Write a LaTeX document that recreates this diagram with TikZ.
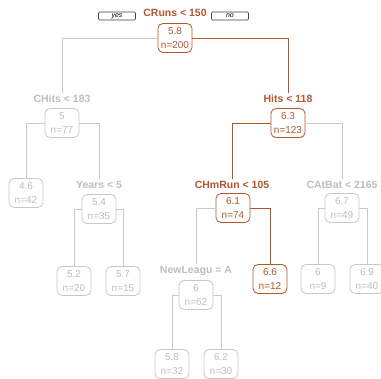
\documentclass[tikz,border=0pt]{standalone}
\usepackage{fontspec}
\setmainfont{Liberation Sans}
\usepackage{tikz}
\usetikzlibrary{positioning}

\definecolor{pathcol}{RGB}{178,86,44}
\definecolor{offcol}{RGB}{200,200,200}
\definecolor{offtext}{RGB}{190,190,190}

\tikzset{
  split/.style={font=\bfseries\fontsize{10.5}{12}\selectfont, inner sep=2pt, text=offtext},
  box/.style={draw=offcol, fill=white, rounded corners=5pt, line width=0.8pt,
    minimum width=34pt, minimum height=29pt, inner xsep=3pt, inner ysep=1pt,
    align=center, text=offtext, font=\fontsize{10}{13.5}\selectfont},
  hot/.style={draw=pathcol, text=pathcol},
  hotsplit/.style={text=pathcol},
  wire/.style={draw=offcol, line width=0.8pt},
  hotwire/.style={draw=pathcol, line width=0.9pt},
  tag/.style={draw=black!75, rounded corners=1pt, line width=0.7pt, minimum width=37pt,
    minimum height=8pt, inner sep=0pt, font=\itshape\fontsize{7}{7}\selectfont}
}

\begin{document}
\begin{tikzpicture}[x=1pt,y=-1pt]
    \useasboundingbox (0,0) rectangle (381,379);

        % Root split with the yes / no tags
        \node[split, hotsplit] (rootsplit) at (175,13) {CRuns < 150};
        \node[tag] (yes) at (117,16) {yes};
        \node[tag] (no) at (230,16) {no};
        \node[box, hot] (root) at (175,38) {5.8\\n=200};

        % Left branch
        \node[split] (chitssplit) at (62,99) {CHits < 183};
        \node[box] (chits) at (62,123) {5\\n=77};
        \node[box] (l46) at (26,193) {4.6\\n=42};
        \node[split] (yearssplit) at (99,185) {Years < 5};
        \node[box] (years) at (99,209) {5.4\\n=35};
        \node[box] (l52) at (74,281) {5.2\\n=20};
        \node[box] (l57) at (123,281) {5.7\\n=15};

        % Right branch
        \node[split, hotsplit] (hitssplit) at (288,99) {Hits < 118};
        \node[box, hot] (hits) at (288,123) {6.3\\n=123};
        \node[split, hotsplit] (chmrunsplit) at (232,185) {CHmRun < 105};
        \node[box, hot] (chmrun) at (233,208) {6.1\\n=74};
        \node[split] (newleagsplit) at (196,271) {NewLeagu = A};
        \node[box] (newleag) at (196,295) {6\\n=62};
        \node[box] (l58) at (172,364) {5.8\\n=32};
        \node[box] (l62) at (221,364) {6.2\\n=30};
        \node[box, hot] (l66) at (270,279) {6.6\\n=12};
        \node[split] (catbatsplit) at (342,185) {CAtBat < 2165};
        \node[box] (catbat) at (342,208) {6.7\\n=49};
        \node[box] (l6) at (318,279) {6\\n=9};
        \node[box] (l69) at (367,279) {6.9\\n=40};

        % Connectors
        \draw[wire] (root.west) -| (chitssplit.north);
        \draw[hotwire] (root.east) -| (hitssplit.north);
        \draw[wire] (chits.west) -| (l46.north);
        \draw[wire] (chits.east) -| (yearssplit.north);
        \draw[wire] (years.west) -| (l52.north);
        \draw[wire] (years.east) -| (l57.north);
        \draw[hotwire] (hits.west) -| (chmrunsplit.north);
        \draw[wire] (hits.east) -| (catbatsplit.north);
        \draw[wire] (chmrun.west) -| (newleagsplit.north);
        \draw[hotwire] (chmrun.east) -| (l66.north);
        \draw[wire] (newleag.west) -| (l58.north);
        \draw[wire] (newleag.east) -| (l62.north);
        \draw[wire] (catbat.west) -| (l6.north);
        \draw[wire] (catbat.east) -| (l69.north);

\end{tikzpicture}
\end{document}
